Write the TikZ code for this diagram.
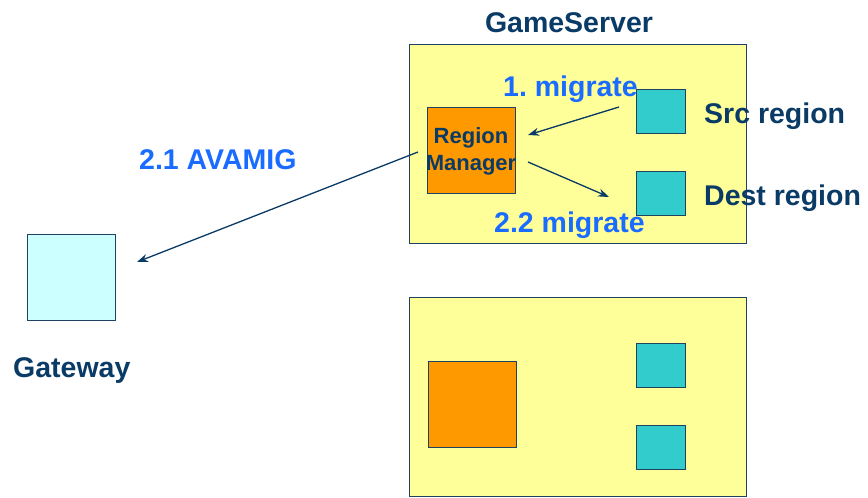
\documentclass[tikz,border=0pt]{standalone}
\usepackage{fontspec}
\setmainfont{Liberation Sans}
\usetikzlibrary{arrows.meta}
\definecolor{navy}{HTML}{0A3A66}
\definecolor{lblue}{HTML}{1A6BFF}
\definecolor{ylw}{HTML}{FFFF99}
\definecolor{org}{HTML}{FF9900}
\definecolor{cyn}{HTML}{33CCCC}
\definecolor{lcyn}{HTML}{CCFFFF}
\definecolor{edge}{HTML}{1F4260}
\tikzset{
  box/.style={draw=edge, line width=1.3pt, inner sep=0pt, anchor=north west},
  server/.style={box, fill=ylw, minimum width=337pt, minimum height=199pt},
  mgr/.style={box, fill=org, minimum width=88pt, minimum height=86pt},
  region/.style={box, fill=cyn, minimum width=49pt, minimum height=44pt},
  gw/.style={box, fill=lcyn, minimum width=88pt, minimum height=86pt},
  lbl/.style={inner sep=0pt, font=\fontsize{28.5}{30}\selectfont\bfseries, text=navy},
  msg/.style={inner sep=0pt, font=\fontsize{28.5}{30}\selectfont\bfseries, text=lblue},
  arr/.style={draw=navy, line width=1.3pt, -{Stealth[length=11pt,width=8pt]}}
}
\frenchspacing
\begin{document}
\begin{tikzpicture}[x=1pt,y=-1pt]
\useasboundingbox (0,0) rectangle (868,498);
% top server
\node[server] (gs1) at (409,44) {};
\node[mgr] (rm1) at (427,107) {};
\node[align=center, inner sep=0pt, font=\fontsize{22}{27}\selectfont\bfseries, text=navy] (rmt) at (471,151) {Region\\Manager};
\node[region] (src) at (636,89) {};
\node[region] (dst) at (636,171) {};
% bottom server
\node[server] (gs2) at (409,297) {};
\node[mgr] (rm2) at (428,361) {};
\node[region] (r3) at (636,343) {};
\node[region] (r4) at (636,425) {};
% gateway
\node[gw] (gw) at (27,234) {};
% labels
\node[lbl, anchor=base] (gsl) at (569,32) {GameServer};
\node[lbl, anchor=base west] (srcl) at (704,123) {Src region};
\node[lbl, anchor=base west] (dstl) at (704,205) {Dest region};
\node[lbl, anchor=base west] (gwl) at (13,377) {Gateway};
\node[msg, anchor=base west] (m1) at (503,96) {1. migrate};
\node[msg, anchor=base west] (m22) at (494,232) {2.2 migrate};
\node[msg, anchor=base west] (m21) at (139,169) {2.1 AVAMIG};
% arrows
\coordinate (a1s) at (619,107);
\coordinate (a1e) at (528,135);
\coordinate (a2s) at (528,162);
\coordinate (a2e) at (609,197);
\coordinate (a3s) at (418,152);
\coordinate (a3e) at (137,262);
\draw[arr] (a1s) -- (a1e);
\draw[arr] (a2s) -- (a2e);
\draw[arr] (a3s) -- (a3e);
\end{tikzpicture}
\end{document}
